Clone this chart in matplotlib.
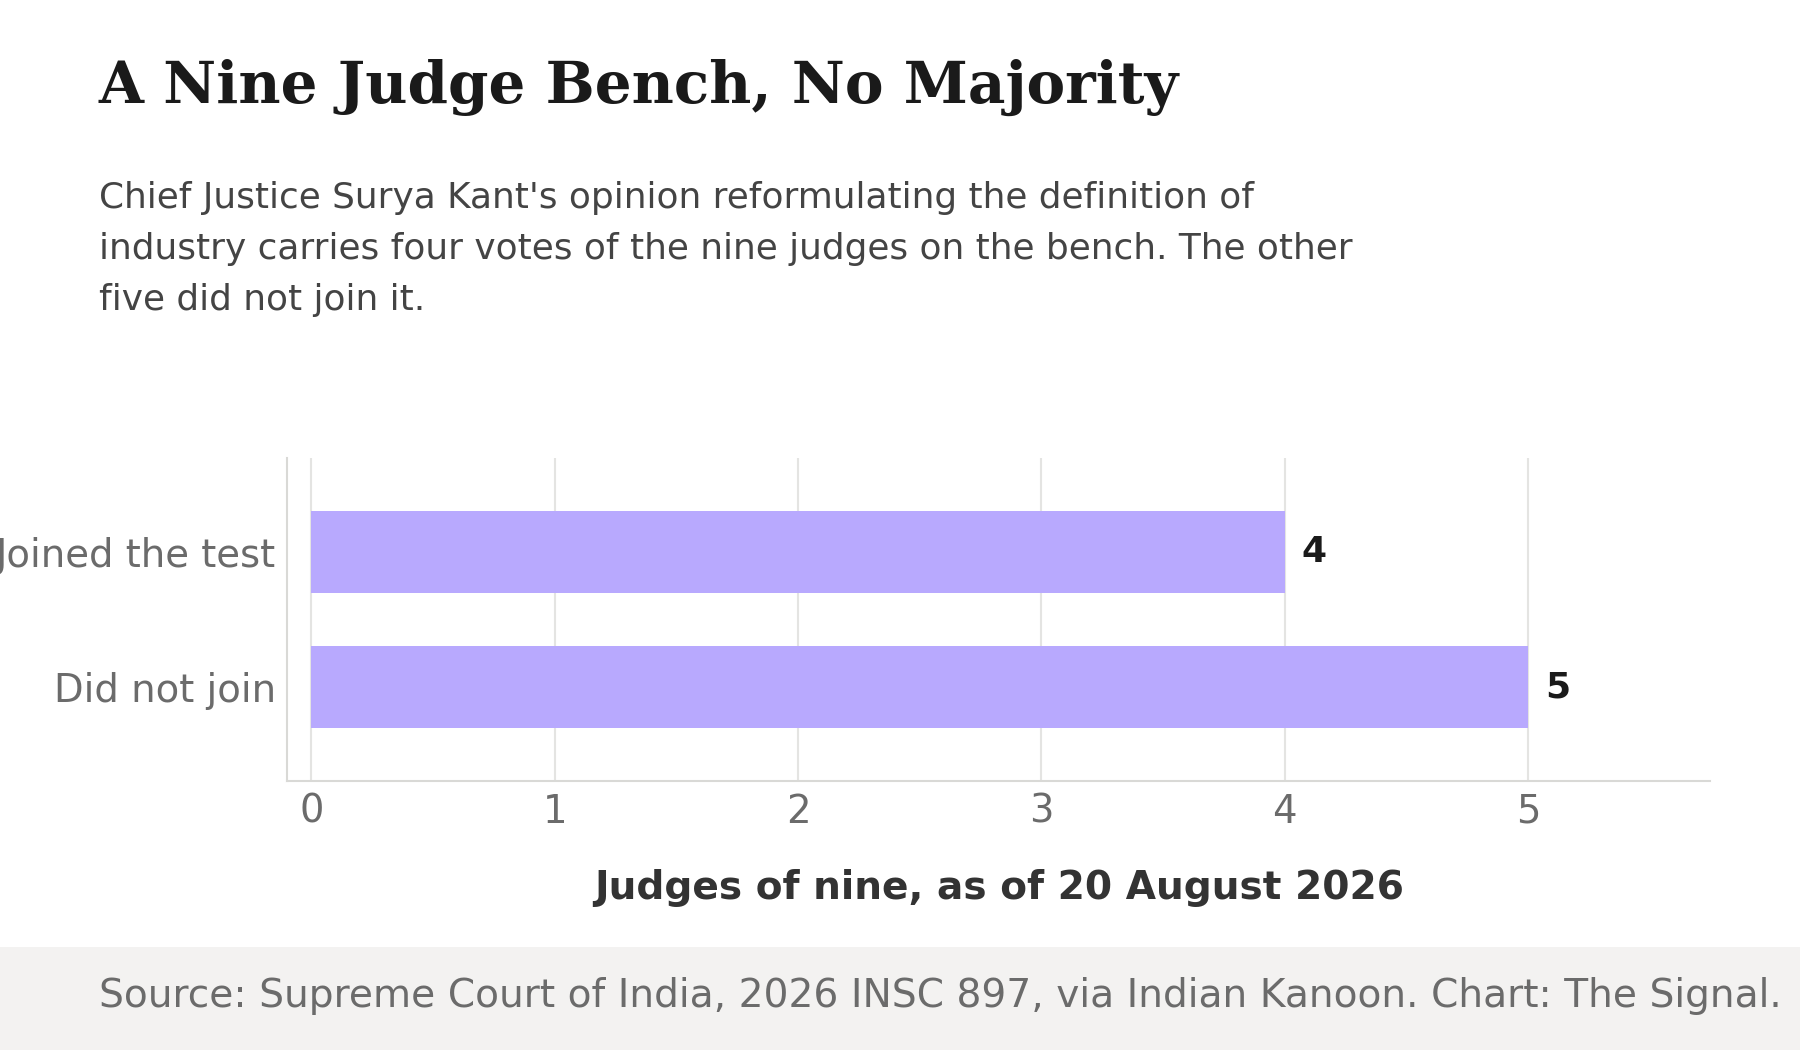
import matplotlib.pyplot as plt
from matplotlib.patches import Rectangle

# Nine judge bench: who joined the CJI's reformulated test
categories = ["Joined the test", "Did not join"]
judges = [4, 5]
ticks = [0, 1, 2, 3, 4, 5]

title = "A Nine Judge Bench, No Majority"
subtitle = ("Chief Justice Surya Kant's opinion reformulating the definition of\n"
            "industry carries four votes of the nine judges on the bench. The other\n"
            "five did not join it.")
xlabel = "Judges of nine, as of 20 August 2026"
source = "Source: Supreme Court of India, 2026 INSC 897, via Indian Kanoon. Chart: The Signal."

bar_color = "#b8a9fe"
grid_color = "#e4e4e2"
spine_color = "#d9d9d6"

fig = plt.figure(figsize=(18, 10.5), dpi=100)
fig.patch.set_facecolor("white")

# footer band
fig.add_artist(Rectangle((0, 0), 1, 90 / 915, transform=fig.transFigure,
                         facecolor="#f3f2f1", edgecolor="none", zorder=0))
fig.text(86 / 1568, 1 - 868 / 915, source, fontsize=28.15, color="#6b6b6b",
         va="center", ha="left")

fig.text(86 / 1568, 1 - 76 / 915, title, family="DejaVu Serif", fontweight="bold",
         fontsize=41.8, color="#1a1a1a", va="center", ha="left")
fig.text(86 / 1568, 1 - 158 / 915, subtitle, fontsize=25.8, color="#444444",
         va="top", ha="left", linespacing=1.63)

ax = fig.add_axes([250 / 1568, 1 - 681 / 915, 1240 / 1568, 282 / 915])
ypos = list(range(len(categories)))
ax.barh(ypos, judges, height=0.61, color=bar_color, zorder=2)
ax.set_yticks(ypos)
ax.set_yticklabels(categories)
ax.set_ylim(1.7, -0.7)
ax.set_xlim(-0.1, 5.75)
ax.set_xticks(ticks)

for y, v in zip(ypos, judges):
    ax.text(v + 0.07, y, str(v), fontsize=26, fontweight="bold",
            color="#1a1a1a", va="center", ha="left")

ax.grid(axis="x", color=grid_color, linewidth=1.5, zorder=0)
ax.set_axisbelow(True)
for side in ["top", "right"]:
    ax.spines[side].set_visible(False)
for side in ["left", "bottom"]:
    ax.spines[side].set_color(spine_color)
    ax.spines[side].set_linewidth(1.5)
ax.tick_params(length=0, labelsize=27.8, labelcolor="#6b6b6b", pad=8)
ax.set_xlabel(xlabel, fontsize=28.2, fontweight="bold", color="#333333", labelpad=28)

fig.savefig("out.png", dpi=100)
